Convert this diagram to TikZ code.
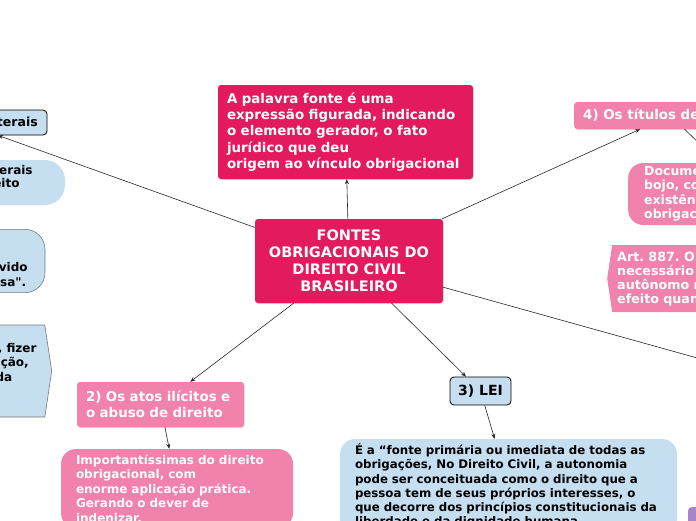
\documentclass[tikz,border=0pt]{standalone}
\usepackage{fontspec}
\setmainfont{DejaVu Sans}[Ligatures=TeXOff]
\usepackage{tikz}
\usetikzlibrary{shapes.symbols, arrows.meta, shadows}
\definecolor{crimson}{RGB}{227, 26, 94}
\definecolor{rosa}{RGB}{240, 130, 171}
\definecolor{celeste}{RGB}{197, 223, 241}
\definecolor{lilas}{RGB}{168, 134, 206}
\definecolor{borda}{RGB}{120, 120, 120}
\frenchspacing

\begin{document}
\begin{tikzpicture}[x=1pt, y=-1pt,
    link/.style={-{Stealth[length=5pt, width=4pt]}, line width=0.6pt, black!85},
    sombra/.style={drop shadow={shadow xshift=0.7pt, shadow yshift=-0.9pt, opacity=0.3}},
    forte/.style={rectangle, rounded corners=3pt, fill=crimson, text=white, sombra},
    rosabox/.style={rectangle, rounded corners=3pt, fill=rosa, text=white, sombra},
    rosanuvem/.style={rectangle, rounded corners=15pt, fill=rosa, text=white},
    azulbox/.style={rectangle, rounded corners=4pt, fill=celeste, draw=black, line width=0.8pt},
    azulnuvem/.style={rectangle, rounded corners=15pt, fill=celeste}]
    \useasboundingbox (0,0) rectangle (696,520);
    \clip (0,0) rectangle (696,520);

    \node[forte, font=\fontsize{14.5}{17}\selectfont\bfseries, align=center, minimum width=188pt, minimum height=84pt] (fontes) at (349,261) {FONTES\\OBRIGACIONAIS DO\\DIREITO CIVIL\\BRASILEIRO};
    \node[forte, font=\fontsize{13.4}{16.4}\selectfont\bfseries, text width=237pt, align=left, inner xsep=9pt, minimum height=94pt] (origem) at (345.5,132) {A palavra fonte é uma\\expressão figurada, indicando\\o elemento gerador, o fato\\jurídico que deu\\origem ao vínculo obrigacional};

    \node[azulbox, font=\fontsize{12.5}{15}\selectfont\bfseries, minimum width=170pt, minimum height=25pt] (unilateral) at (-38,122.5) {1) Os atos unilaterais};
    \node[azulnuvem, rounded corners=20pt, font=\fontsize{12}{13}\selectfont\bfseries, text width=176pt, align=left, inner xsep=15pt, minimum height=45pt] (declaracao) at (-38,182.5) {Declarações unilaterais\\de vontade no direito\\civil.};
    \node[azulnuvem, draw=borda, line width=0.6pt, rounded corners=20pt, font=\fontsize{12}{15}\selectfont\bfseries, text width=205pt, align=left, inner xsep=12pt, minimum height=58pt] (pagamento) at (-69.5,261) {Tratam tanto da\\gestão de negócios,\\como do pagamento indevido\\"enriquecimento sem causa".};
    \node[shape=signal, signal to=east, signal pointer angle=163, fill=celeste, draw=borda, line width=0.6pt, font=\fontsize{12}{14.5}\selectfont\bfseries, text width=245pt, align=left, inner xsep=4pt, inner ysep=2pt, minimum height=92pt, anchor=east] (recompensa) at (52,371) {Quem quer que, nos\\termos do artigo antecedente, fizer\\o serviço, ou satisfizer a condição,\\ainda que não pelo interesse da\\promessa, poderá exigir a\\recompensa estipulada.};

    \node[rosabox, font=\fontsize{13.4}{16}\selectfont\bfseries, text width=149pt, align=left, inner xsep=9pt, minimum height=45pt] (ilicitos) at (160.5,404.5) {2) Os atos ilícitos e\\o abuso de direito};
    \node[rosanuvem, font=\fontsize{12}{14.4}\selectfont\bfseries, text width=202pt, align=left, inner xsep=15pt, minimum height=79pt] (indenizar) at (177,488.5) {Importantíssimas do direito\\obrigacional, com\\enorme aplicação prática.\\Gerando o dever de\\indenizar.};

    \node[azulbox, font=\fontsize{14}{16}\selectfont\bfseries, minimum width=61pt, minimum height=28pt] (lei) at (480.5,391) {3) LEI};
    \node[azulnuvem, font=\fontsize{11.8}{14.3}\selectfont\bfseries, text width=307pt, align=left, inner xsep=15pt, minimum height=94pt] (leitexto) at (508.5,486) {É a “fonte primária ou imediata de todas as\\obrigações, No Direito Civil, a autonomia\\pode ser conceituada como o direito que a\\pessoa tem de seus próprios interesses, o\\que decorre dos princípios constitucionais da\\liberdade e da dignidade humana.};

    \node[rosabox, font=\fontsize{13.4}{15}\selectfont\bfseries, inner xsep=9pt, minimum height=27pt, anchor=west] (titulos) at (574,115.5) {4) Os títulos de crédito};
    \node[rosanuvem, font=\fontsize{12.5}{14.5}\selectfont\bfseries, text width=215pt, align=left, inner xsep=16pt, minimum height=62pt, anchor=west] (documento) at (628,194) {Documento que traz, em seu\\bojo, com autonomia, a\\existência de uma relação\\obrigacional.};
    \node[shape=signal, signal to=west, signal pointer angle=163, fill=rosa, text=white, font=\fontsize{12.7}{14}\selectfont\bfseries, text width=345pt, align=left, inner xsep=5pt, inner ysep=2pt, minimum height=67pt, anchor=west] (artigo) at (607,278.5) {Art. 887. O título de crédito, documento\\necessário ao exercício do direito literal e\\autônomo nele contido, somente produz\\efeito quando preencha os requisitos da lei.};

    \node[rectangle, rounded corners=3pt, fill=lilas, minimum width=120pt, minimum height=40pt, anchor=north west] (roxo) at (688,507) {};
    \coordinate (direita) at (830,395);

    \draw[link] (fontes) -- (origem);
    \draw[link] (fontes) -- (unilateral);
    \draw[link] (fontes) -- (ilicitos);
    \draw[link] (fontes) -- (lei);
    \draw[link] (fontes) -- (titulos);
    \draw[link] (fontes) -- (direita);
    \draw[link] (ilicitos) -- (indenizar);
    \draw[link] (lei) -- (leitexto);
    \draw[link] (titulos) -- (documento);
\end{tikzpicture}
\end{document}
